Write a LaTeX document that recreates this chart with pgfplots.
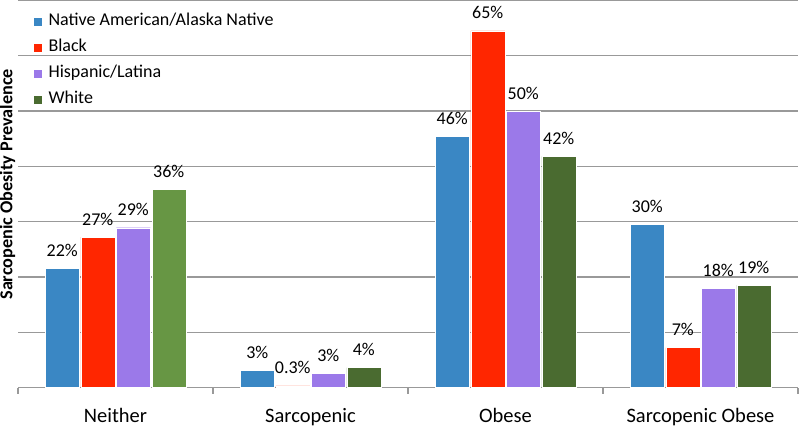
\documentclass[border=0pt]{standalone}
\usepackage{pgfplots}
\pgfplotsset{compat=1.18}
\usepackage{fontspec}
\setmainfont{Carlito}
\definecolor{cblue}{HTML}{3A87C4}
\definecolor{cred}{HTML}{FF2600}
\definecolor{cpurple}{HTML}{9B79E9}
\definecolor{cgreen}{HTML}{4A6B30}
\definecolor{cgreenl}{HTML}{679644}
\begin{document}
\begin{tikzpicture}
\useasboundingbox (-18pt,-39pt) rectangle (782pt,387.5pt);
\begin{axis}[
  scale only axis, width=780pt, height=387pt,
  xmin=-0.5, xmax=3.5, ymin=0, ymax=70,
  ybar, bar width=34pt,
  axis x line*=bottom, axis y line*=left,
  y axis line style={draw=none},
  x axis line style={-, black!40, line width=1.2pt},
  xtick={0,1,2,3},
  xticklabels={Neither,Sarcopenic,Obese,Sarcopenic Obese},
  minor xtick={-0.5,0.5,1.5,2.5,3.5},
  xtick align=outside, major tick length=0pt, minor tick length=6pt,
  minor x tick style={black!40, line width=1.2pt},
  xticklabel style={font=\fontsize{20.5}{24}\selectfont, anchor=base, yshift=-34.7pt},
  ytick={0,10,...,70}, yticklabels={}, ytick style={draw=none},
  ymajorgrids, grid style={black!40, line width=1.2pt},
  ylabel={Sarcopenic Obesity Prevalence},
  every axis y label/.style={at={(axis description cs:-0.0135,0.525)}, rotate=90, anchor=center, font=\fontsize{18.2}{20}\selectfont\bfseries},
  nodes near coords, point meta=explicit symbolic,
  every node near coord/.append style={font=\fontsize{18}{20}\selectfont, anchor=base, yshift=12pt, text=black},
  legend style={at={(axis description cs:0.0192,0.969)}, anchor=north west, draw=none, fill=none, inner sep=0pt,
    font=\fontsize{18}{20}\selectfont, row sep=8pt,
    nodes={inner sep=0pt, text height=13pt, text depth=5pt},
    /tikz/every odd column/.append style={column sep=6pt}},
  legend cell align=left,
  legend image code/.code={\fill[#1] (0pt,-4.5pt) rectangle (9pt,4.5pt);},
]
\addplot[fill=cblue, draw=white, bar shift=-53.25pt] coordinates {(0,21.6) [22\%] (1,3.1) [3\%] (2,45.4) [46\%] (3,29.5) [30\%]};
\addplot[fill=cred, draw=white, bar shift=-17.75pt] coordinates {(0,27.2) [27\%] (1,0.3) [0.3\%] (2,64.5) [65\%] (3,7.2) [7\%]};
\addplot[fill=cpurple, draw=white, bar shift=17.75pt] coordinates {(0,28.9) [29\%] (1,2.5) [3\%] (2,49.9) [50\%] (3,17.9) [18\%]};
\addplot[fill=cgreen, draw=white, bar shift=53.25pt] coordinates {(1,3.6) [4\%] (2,41.8) [42\%] (3,18.5) [19\%]};
\addplot[fill=cgreenl, draw=white, bar shift=53.25pt, forget plot] coordinates {(0,35.8) [36\%]};
\legend{Native American/Alaska Native, Black, Hispanic/Latina, White}
\end{axis}
\end{tikzpicture}
\end{document}
